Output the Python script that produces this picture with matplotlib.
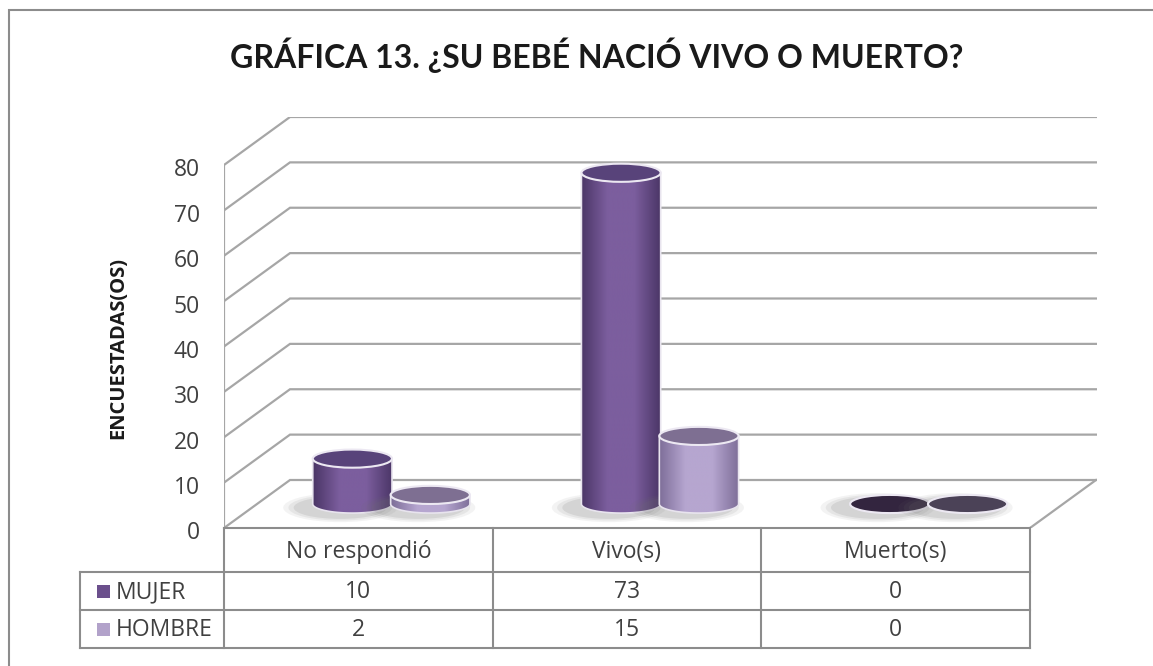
import numpy as np
import matplotlib
matplotlib.use("Agg")
import matplotlib.pyplot as plt
from matplotlib.patches import Ellipse, Polygon, Rectangle
from matplotlib.colors import LinearSegmentedColormap

# ---------------- data ----------------
categories = ["No respondió", "Vivo(s)", "Muerto(s)"]
series_names = ["MUJER", "HOMBRE"]
mujer = [10, 73, 0]
hombre = [2, 15, 0]
yticks = [0, 10, 20, 30, 40, 50, 60, 70, 80]
title = "GRÁFICA 13. ¿SU BEBÉ NACIÓ VIVO O MUERTO?"
ylabel = "ENCUESTADAS(OS)"

# ---------------- style ----------------
FONT = ["Open Sans", "DejaVu Sans"]
plt.rcParams['font.family'] = FONT
W, H = 1153, 666
fig = plt.figure(figsize=(W / 100, H / 100), dpi=100)

# plot-area layout in pixels
px_left, px_front_right, px_right = 224, 1030, 1097
px_zero, px_top80, px_top = 528, 165, 117
ncat = len(categories)
ux = (px_front_right - px_left) / ncat          # px per category
uy = (px_zero - px_top80) / yticks[-1]          # px per value unit
xmax = (px_right - px_left) / ux
ymax = (px_zero - px_top) / uy
dx = 66 / ux                                    # depth offset
dy = 48 / uy

ax = fig.add_axes([px_left / W, (H - px_zero) / H, (px_right - px_left) / W, (px_zero - px_top) / H])
ax.set_xlim(0, xmax)
ax.set_ylim(0, ymax)
ax.axis("off")

grid_c = "#a6a6a6"
TXT = "#404040"
FS = 16.5
# gridlines (3D walls)
for v in yticks:
    ax.plot([0, dx, xmax], [v, v + dy, v + dy], color=grid_c, lw=1.6, zorder=1, solid_joinstyle="miter")
# front vertical axis
ax.plot([0, 0], [0, yticks[-1]], color=grid_c, lw=1.6, zorder=1)
# floor right edge
ax.plot([ncat, ncat + dx], [0, dy], color=grid_c, lw=1.6, zorder=1)
# tick labels
for v in yticks:
    ax.text(-24 / ux, v - 1.2, str(v), ha="right", va="center", fontsize=FS, color=TXT,
            family=FONT, clip_on=False)

# ---------------- cylinders ----------------
bw = 0.295      # cylinder diameter (category units)
ry = 2.0        # ellipse half-height (value units)
off = 0.145

def gradient_cmap(edge, mid):
    return LinearSegmentedColormap.from_list("g", [edge, mid, mid, edge], N=256)

styles = {
    "MUJER": dict(edge="#4a3566", mid="#7c5e9e", top="#58437a", zero="#33253f"),
    "HOMBRE": dict(edge="#7d6d98", mid="#b6a6d0", top="#7e6f92", zero="#4b4257"),
}

def draw_shadow(xc, base, z):
    for k, a in zip([1.0, 0.7, 0.4], [0.08, 0.10, 0.14]):
        e = Ellipse((xc - 0.045, base - 0.8), bw + 0.13 * k, 2 * ry + 2.4 * k,
                    facecolor="#6f6f6f", edgecolor="none", alpha=a, zorder=z)
        ax.add_patch(e)

def draw_cylinder(xc, base, h, st, z):
    rx = bw / 2
    draw_shadow(xc, base, z)
    if h > 0:
        t = np.linspace(np.pi, 2 * np.pi, 60)
        arc = np.column_stack([xc + rx * np.cos(t), base + ry * np.sin(t)])
        verts = np.vstack([[[xc - rx, base + h]], arc, [[xc + rx, base + h]]])
        poly = Polygon(verts, closed=True, facecolor="none", edgecolor="#e8e4ee", lw=1.2, zorder=z + 0.2)
        ax.add_patch(poly)
        grad = np.linspace(0, 1, 256).reshape(1, -1)
        im = ax.imshow(grad, cmap=gradient_cmap(st["edge"], st["mid"]), aspect="auto",
                       extent=[xc - rx, xc + rx, base - ry, base + h], zorder=z + 0.1,
                       interpolation="bicubic")
        im.set_clip_path(poly)
        topc = st["top"]
    else:
        topc = st["zero"]
    ax.add_patch(Ellipse((xc, base + h), bw, 2 * ry, facecolor=topc, edgecolor="#ece8f2",
                         lw=1.5, zorder=z + 0.3))

base = dy / 2
for i in range(ncat):
    xc0 = i + 0.5 + dx / 2
    draw_cylinder(xc0 - off, base, mujer[i], styles["MUJER"], 3 + i * 2)
    draw_cylinder(xc0 + off, base, hombre[i], styles["HOMBRE"], 4 + i * 2)

ax.set_xlim(0, xmax)
ax.set_ylim(0, ymax)

# ---------------- data table ----------------
tab_c = "#8c8c8c"
px_tab_left = 80
row_px = [528, 572, 610, 648]
xl = (px_tab_left - px_left) / ux
ry_rows = [-(r - px_zero) / uy for r in row_px]
kw = dict(color=tab_c, lw=1.5, clip_on=False, zorder=10)
ax.plot([0, ncat], [ry_rows[0]] * 2, **kw)
for r in ry_rows[1:]:
    ax.plot([xl, ncat], [r, r], **kw)
for c in range(ncat + 1):
    ax.plot([c, c], [ry_rows[0], ry_rows[-1]], **kw)
ax.plot([xl, xl], [ry_rows[1], ry_rows[-1]], **kw)

for i, cat in enumerate(categories):
    ax.text(i + 0.5, (ry_rows[0] + ry_rows[1]) / 2 - 0.4, cat, ha="center", va="center",
            fontsize=FS, color=TXT, clip_on=False, family=FONT)
legend_cols = ["#6b4f8c", "#b2a2ca"]
for j, (name, vals) in enumerate(zip(series_names, [mujer, hombre])):
    yc = (ry_rows[j + 1] + ry_rows[j + 2]) / 2
    sq = 13
    ax.add_patch(Rectangle((xl + 17 / ux, yc - sq / 2 / uy), sq / ux, sq / uy, facecolor=legend_cols[j],
                           edgecolor="none", clip_on=False, zorder=11))
    ax.text(xl + 36 / ux, yc - 0.3, name, ha="left", va="center", fontsize=FS, color=TXT,
            clip_on=False, family=FONT)
    for i, v in enumerate(vals):
        ax.text(i + 0.5, yc - 0.3, str(v), ha="center", va="center", fontsize=FS,
                color=TXT, clip_on=False, family=FONT)

# ---------------- texts & frame ----------------
fig.text(597 / W, 1 - 55 / H, title, ha="center", va="center", fontsize=23, fontweight="bold",
         color="#1a1a1a", family=["Lato", "DejaVu Sans"])
fig.text(118 / W, 1 - 348 / H, ylabel, ha="center", va="center", rotation=90, fontsize=14.5,
         fontweight="bold", color="#1a1a1a", family=FONT)

frame = Rectangle((9 / W, -0.05), 1.2, (H - 10) / H + 0.05, transform=fig.transFigure,
                  facecolor="none", edgecolor="#8c8c8c", lw=1.5)
fig.patches.append(frame)

fig.savefig("out.png", dpi=100)
